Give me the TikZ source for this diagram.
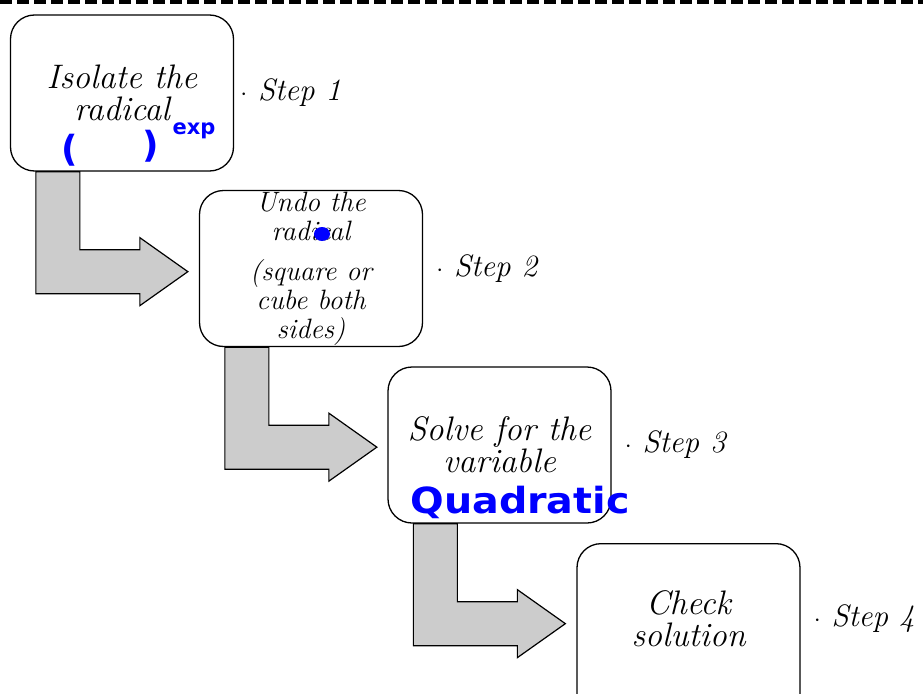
\documentclass[tikz,border=0pt]{standalone}
\usepackage{fontspec}
\newfontfamily\markerfont{DejaVu Sans}
\usepackage{tikz}
\usetikzlibrary{calc, positioning}

\tikzset{
  stepbox/.style={draw, line width=1.3pt, rounded corners=24pt, fill=white,
    minimum width=223pt, minimum height=156pt, align=center, inner sep=0pt,
    font=\itshape\fontsize{34}{32}\selectfont},
  steplabel/.style={right=13pt of #1, inner sep=0pt, font=\itshape\fontsize{31}{32}\selectfont},
  bentarrow/.style={draw, line width=1.2pt, fill=black!20, line join=miter},
  ink/.style={text=blue, inner sep=0pt}
}

\begin{document}
\begin{tikzpicture}[x=1pt, y=-1pt]
\useasboundingbox (0,0) rectangle (923,693);
\draw[line width=4pt, dash pattern=on 12pt off 5pt] (0,2) -- (923,2);

% the four boxes
\node[stepbox] (isolate) at (122,93) {Isolate the\\radical};
\node[stepbox, font=\itshape\fontsize{28}{29}\selectfont] (undo) at (311,268.5)
  {Undo the\\radical\\[11pt](square or\\cube both\\sides)};
\node[stepbox] (solve) at (499.5,445) {Solve for the\\variable};
\node[stepbox, minimum height=180pt, anchor=north] (check) at (688.5,543) {};
\node[align=center, inner sep=0pt, font=\itshape\fontsize{34}{32}\selectfont] (checktext) at (688.5,619) {Check\\solution};

% step labels
\node[steplabel=isolate, right=6pt of isolate] (s1) {$\cdot$ Step 1};
\node[steplabel=undo] (s2) {$\cdot$ Step 2};
\node[steplabel=solve] (s3) {$\cdot$ Step 3};
\node[steplabel=check, anchor=west] (s4) at (check.east |- checktext) {$\cdot$ Step 4};

% bent arrows
\foreach \a/\b in {isolate/undo, undo/solve, solve/check}{
  \draw[bentarrow] ($(\a.south west)+(26,0)$) -- ++(0,122) -- ++(104,0) -- ++(0,12)
    -- ($(\a.south west)+(178,100)$) -- ($(\a.south west)+(130,66)$) -- ++(0,12)
    -- ($(\a.south west)+(70,78)$) -- ($(\a.south west)+(70,0)$) -- cycle;
}

% blue handwriting
\node[ink, font=\markerfont\bfseries\fontsize{36}{36}\selectfont] (lpar) at (70,150) {(};
\node[ink, font=\markerfont\bfseries\fontsize{36}{36}\selectfont] (rpar) at (151,146) {)};
\node[ink, font=\markerfont\bfseries\fontsize{21}{21}\selectfont] (expo) at (194,131) {exp};
\node[ink, font=\markerfont\bfseries\fontsize{36}{36}\selectfont, xscale=1.1] (quad) at (520,502) {Quadratic};
\fill[blue] (322,234) ellipse (8pt and 7pt);
\end{tikzpicture}
\end{document}
